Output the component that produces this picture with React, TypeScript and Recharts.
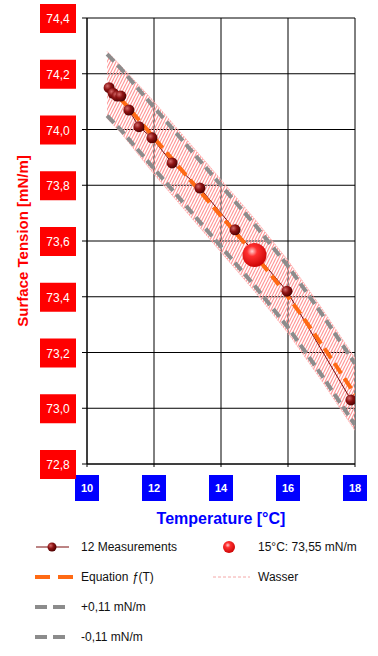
import { CartesianGrid, ComposedChart, Area, Line, XAxis, YAxis } from "recharts";

// Surface tension of water vs temperature
const measTemps = [10.66, 10.78, 10.9, 11.01, 11.25, 11.55, 11.94, 12.54, 13.37, 14.42, 15.97, 17.88];
const measValues = [74.15, 74.13, 74.12, 74.12, 74.07, 74.01, 73.97, 73.88, 73.79, 73.64, 73.42, 73.03];

const eqTemps = [10.6, 11, 12, 13, 14, 15, 16, 17, 18];
const eqValues = [74.16, 74.11, 73.97, 73.83, 73.69, 73.55, 73.4, 73.23, 73.05];
const plusValues = [74.27, 74.22, 74.08, 73.94, 73.8, 73.66, 73.51, 73.34, 73.16];
const minusValues = [74.05, 74.0, 73.86, 73.72, 73.58, 73.44, 73.29, 73.12, 72.94];
const wasserHigh = [74.28, 74.23, 74.1, 73.96, 73.82, 73.68, 73.53, 73.36, 73.18];
const wasserLow = [74.04, 73.99, 73.84, 73.7, 73.56, 73.42, 73.27, 73.1, 72.92];

const refTemp = [15];
const refValue = [73.55];

const xTicks = [10, 12, 14, 16, 18];
const yTicks = [72.8, 73.0, 73.2, 73.4, 73.6, 73.8, 74.0, 74.2, 74.4];

const FONT = "'Liberation Sans', Arial, sans-serif";
const ORANGE = "#ff6a14";
const GRAY = "#8c8c8c";
const DARKRED = "#7a0a0a";

const measData = measTemps.map((t, i) => ({ t, v: measValues[i] }));
const eqData = eqTemps.map((t, i) => ({ t, eq: eqValues[i], plus: plusValues[i], minus: minusValues[i], band: [wasserLow[i], wasserHigh[i]] }));
const refData = refTemp.map((t, i) => ({ t, v: refValue[i] }));

function fmt(v: number) {
  return v.toFixed(1).replace(".", ",");
}

function YTick({ y, payload }: any) {
  return (
    <g>
      <rect x={40} y={y - 14} width={36} height={29} fill="#ff0000" />
      <text x={58} y={y + 5} textAnchor="middle" fill="#fff" fontSize={12} fontFamily={FONT}>{fmt(payload.value)}</text>
    </g>
  );
}

function XTick({ x, payload }: any) {
  return (
    <g>
      <rect x={x - 12} y={475} width={24} height={26} fill="#0000ff" />
      <text x={x} y={492} textAnchor="middle" fill="#fff" fontSize={11} fontWeight="bold" fontFamily={FONT}>{payload.value}</text>
    </g>
  );
}

function MeasDot({ cx, cy, index }: any) {
  return <circle key={index} cx={cx} cy={cy} r={5.5} fill="url(#measGrad)" />;
}

function RefDot({ cx, cy, index }: any) {
  return <circle key={index} cx={cx} cy={cy} r={12} fill="url(#refGrad)" />;
}

function Defs() {
  return (
    <svg width={0} height={0} style={{ position: "absolute" }}>
      <defs>
        <radialGradient id="measGrad" cx="35%" cy="35%" r="70%">
          <stop offset="0%" stopColor="#d46a6a" />
          <stop offset="45%" stopColor="#8e1414" />
          <stop offset="100%" stopColor="#4a0000" />
        </radialGradient>
        <radialGradient id="refGrad" cx="40%" cy="35%" r="70%">
          <stop offset="0%" stopColor="#ffd0d0" />
          <stop offset="30%" stopColor="#ff3030" />
          <stop offset="100%" stopColor="#c80000" />
        </radialGradient>
        <pattern id="hatch" width="3" height="6" patternUnits="userSpaceOnUse">
          <path d="M0,6 L3,0 M-1.5,3 L0,0 M3,6 L4.5,3" stroke="#ff9696" strokeWidth={1.2} />
        </pattern>
      </defs>
    </svg>
  );
}

const legendText: React.CSSProperties = { position: "absolute", fontSize: 12, fontFamily: FONT, color: "#111", lineHeight: "14px" };

function ChartLegend() {
  return (
    <>
      <svg width={378} height={126} style={{ position: "absolute", left: 0, top: 530 }}>
        <line x1={36} x2={69} y1={17} y2={17} stroke={DARKRED} strokeWidth={1} />
        <circle cx={52} cy={17} r={4.5} fill="url(#measGrad)" />
        <circle cx={229} cy={17} r={6} fill="url(#refGrad)" />
        <line x1={35} x2={73} y1={47} y2={47} stroke={ORANGE} strokeWidth={4} strokeDasharray="15 8" />
        <line x1={213} x2={250} y1={47} y2={47} stroke="#f4a8a8" strokeWidth={1} strokeDasharray="3 2" />
        <line x1={35} x2={65} y1={77} y2={77} stroke={GRAY} strokeWidth={4} strokeDasharray="12 6" />
        <line x1={35} x2={65} y1={107} y2={107} stroke={GRAY} strokeWidth={4} strokeDasharray="12 6" />
      </svg>
      <div style={{ ...legendText, left: 81, top: 540 }}>12 Measurements</div>
      <div style={{ ...legendText, left: 258, top: 540 }}>15°C: 73,55 mN/m</div>
      <div style={{ ...legendText, left: 81, top: 570 }}>Equation <i>ƒ</i>(T)</div>
      <div style={{ ...legendText, left: 258, top: 570 }}>Wasser</div>
      <div style={{ ...legendText, left: 81, top: 600 }}>+0,11 mN/m</div>
      <div style={{ ...legendText, left: 81, top: 630 }}>-0,11 mN/m</div>
    </>
  );
}

export default function App() {
  return (
    <div style={{ position: "absolute", left: 0, top: 0, width: 378, height: 656, background: "#fff", fontFamily: FONT }}>
      <Defs />
      <ComposedChart width={378} height={530} margin={{ top: 18, right: 23, left: 0, bottom: 0 }}>
        <CartesianGrid stroke="#000" strokeWidth={1} />
        <XAxis
          type="number"
          dataKey="t"
          domain={[10, 18]}
          ticks={xTicks}
          allowDataOverflow
          height={66}
          tick={<XTick />}
          tickSize={3}
          tickLine={{ stroke: "#000" }}
          axisLine={{ stroke: "#000" }}
          label={{ value: "Temperature [°C]", position: "insideBottom", offset: 6, fill: "#0000ff", fontSize: 16, fontWeight: "bold", fontFamily: FONT }}
        />
        <YAxis
          type="number"
          domain={[72.8, 74.4]}
          ticks={yTicks}
          allowDataOverflow
          width={87}
          tick={<YTick />}
          tickSize={5}
          tickLine={{ stroke: "#000" }}
          axisLine={{ stroke: "#000" }}
          label={{ value: "Surface Tension [mN/m]", angle: -90, position: "insideLeft", offset: 23, fill: "#ff0000", fontSize: 15, fontWeight: "bold", fontFamily: FONT, style: { textAnchor: "middle" } }}
        />
        <Area data={eqData} dataKey="band" type="linear" stroke="#ffb4b4" strokeWidth={1} strokeDasharray="2 1" fill="url(#hatch)" fillOpacity={1} isAnimationActive={false} />
        <Line data={eqData} dataKey="plus" type="linear" stroke={GRAY} strokeWidth={4} strokeDasharray="10 5" dot={false} isAnimationActive={false} />
        <Line data={eqData} dataKey="minus" type="linear" stroke={GRAY} strokeWidth={4} strokeDasharray="10 5" dot={false} isAnimationActive={false} />
        <Line data={measData} dataKey="v" type="linear" stroke={DARKRED} strokeWidth={1} dot={false} activeDot={false} isAnimationActive={false} />
        <Line data={eqData} dataKey="eq" type="monotone" stroke={ORANGE} strokeWidth={4} strokeDasharray="12 6" dot={false} isAnimationActive={false} />
        <Line data={measData} dataKey="v" type="linear" stroke="none" dot={<MeasDot />} activeDot={false} isAnimationActive={false} />
        <Line data={refData} dataKey="v" type="linear" stroke="none" dot={<RefDot />} activeDot={false} isAnimationActive={false} />
      </ComposedChart>
      <ChartLegend />
    </div>
  );
}
